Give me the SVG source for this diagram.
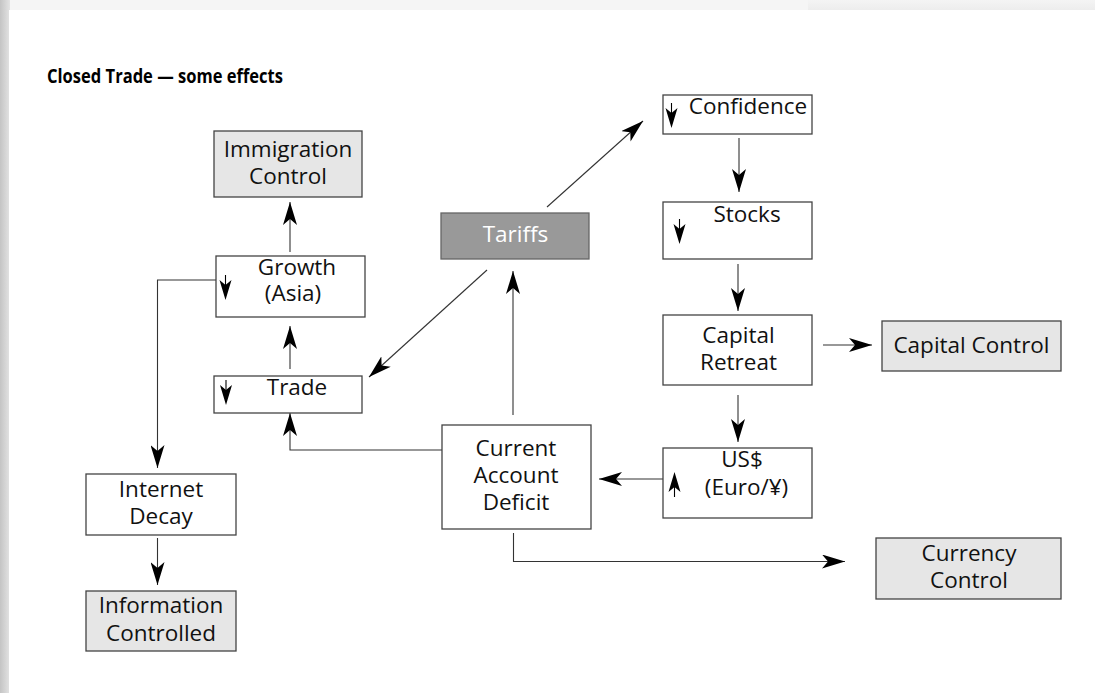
<svg xmlns="http://www.w3.org/2000/svg" width="1095" height="693" viewBox="0 0 1095 693">
  <defs>
    <linearGradient id="leftShade" x1="0" y1="0" x2="1" y2="0">
      <stop offset="0" stop-color="#c4c4c4"/>
      <stop offset="1" stop-color="#e4e4e4"/>
    </linearGradient>
    <linearGradient id="topShade" x1="0" y1="0" x2="0" y2="1">
      <stop offset="0" stop-color="#f4f4f4"/>
      <stop offset="1" stop-color="#ececec"/>
    </linearGradient>
    <marker id="ah" viewBox="0 0 23 14" refX="23" refY="7" markerWidth="23" markerHeight="14" markerUnits="userSpaceOnUse" orient="auto">
      <path d="M0,0 L23,7 L0,14 L6,7 Z" fill="#000"/>
    </marker>
    <g id="dn">
      <line x1="0" y1="-25" x2="0" y2="-15" stroke="#000" stroke-width="1.1"/>
      <path d="M0,0 L-6,-20 L0,-15 L6,-20 Z" fill="#000"/>
    </g>
  </defs>
  <style>
    .box { fill: #ffffff; stroke: #444444; stroke-width: 1.3; }
    .ctl { fill: #e6e6e6; stroke: #444444; stroke-width: 1.3; }
    .dark { fill: #999999; stroke: #666666; stroke-width: 1.3; }
    .t { font-family: "Open Sans", "Noto Sans", sans-serif; font-size: 22.5px; fill: #111111; text-anchor: middle; }
    .tw { font-family: "Open Sans", "Noto Sans", sans-serif; font-size: 22.5px; fill: #ffffff; text-anchor: middle; }
    .title { font-family: "Open Sans", "Noto Sans", sans-serif; font-size: 19px; font-weight: bold; fill: #000000; }
    .c { fill: none; stroke: #333333; stroke-width: 1.1; }
    .ca { fill: none; stroke: #333333; stroke-width: 1.1; marker-end: url(#ah); }
  </style>

  <!-- background / page frame -->
  <rect x="0" y="0" width="1095" height="693" fill="#eeeeee"/>
  <rect x="0" y="0" width="808" height="11" fill="#f5f5f5"/>
  <rect x="808" y="0" width="287" height="11" fill="url(#topShade)"/>
  <rect x="0" y="0" width="10" height="693" fill="url(#leftShade)"/>
  <rect x="9" y="10" width="1086" height="683" fill="#ffffff"/>

  <text class="title" x="47" y="83" textLength="236" lengthAdjust="spacingAndGlyphs">Closed Trade — some effects</text>

  <!-- connectors -->
  <g id="connectors">
    <polyline class="ca" points="216,280 157.5,280 157.5,468"/>
    <line class="ca" x1="157.5" y1="538" x2="157.5" y2="585"/>
    <polyline class="ca" points="442,450 290,450 290,413"/>
    <line class="ca" x1="290" y1="369" x2="290" y2="326"/>
    <line class="ca" x1="290" y1="252" x2="290" y2="202"/>
    <line class="ca" x1="487" y1="270" x2="369" y2="377"/>
    <line class="ca" x1="513" y1="415" x2="513" y2="271"/>
    <line class="ca" x1="547" y1="207" x2="643" y2="121"/>
    <line class="ca" x1="739" y1="138" x2="739" y2="192"/>
    <line class="ca" x1="738" y1="264" x2="738" y2="311"/>
    <line class="ca" x1="823" y1="345" x2="872" y2="345"/>
    <line class="ca" x1="738" y1="395" x2="738" y2="442"/>
    <line class="ca" x1="663" y1="479" x2="599" y2="479"/>
    <polyline class="ca" points="513.5,533 513.5,561.5 845,561.5"/>
  </g>

  <!-- nodes -->
  <g id="immigration-control">
    <rect class="ctl" x="214" y="131" width="148" height="66"/>
    <text class="t" x="288" y="157">Immigration</text>
    <text class="t" x="288" y="184">Control</text>
  </g>
  <g id="growth-asia">
    <rect class="box" x="216" y="256" width="149" height="61"/>
    <use href="#dn" x="225.5" y="300"/>
    <text class="t" x="297" y="275">Growth</text>
    <text class="t" x="293" y="301">(Asia)</text>
  </g>
  <g id="trade">
    <rect class="box" x="214" y="376" width="148" height="37"/>
    <use href="#dn" x="226" y="405"/>
    <text class="t" x="297" y="395">Trade</text>
  </g>
  <g id="tariffs">
    <rect class="dark" x="441" y="213" width="148" height="46"/>
    <text class="tw" x="515.5" y="242">Tariffs</text>
  </g>
  <g id="confidence">
    <rect class="box" x="663" y="95" width="149" height="39"/>
    <use href="#dn" x="671.5" y="128"/>
    <text class="t" x="748" y="113.5">Confidence</text>
  </g>
  <g id="stocks">
    <rect class="box" x="663" y="202" width="149" height="57"/>
    <use href="#dn" x="679.5" y="244"/>
    <text class="t" x="747" y="222">Stocks</text>
  </g>
  <g id="capital-retreat">
    <rect class="box" x="663" y="315" width="149" height="70"/>
    <text class="t" x="738.5" y="343">Capital</text>
    <text class="t" x="738.5" y="370">Retreat</text>
  </g>
  <g id="capital-control">
    <rect class="ctl" x="882" y="321" width="179" height="50"/>
    <text class="t" x="971.5" y="353">Capital Control</text>
  </g>
  <g id="us-dollar">
    <rect class="box" x="663" y="448" width="149" height="70"/>
    <use href="#dn" transform="translate(674.5,472) rotate(180)"/>
    <text class="t" x="742" y="467">US$</text>
    <text class="t" x="746.5" y="495">(Euro/¥)</text>
  </g>
  <g id="current-account-deficit">
    <rect class="box" x="442" y="425" width="149" height="104"/>
    <text class="t" x="516" y="456">Current</text>
    <text class="t" x="516" y="483">Account</text>
    <text class="t" x="516" y="510">Deficit</text>
  </g>
  <g id="internet-decay">
    <rect class="box" x="86" y="474" width="150" height="61"/>
    <text class="t" x="161" y="497">Internet</text>
    <text class="t" x="161" y="524">Decay</text>
  </g>
  <g id="information-controlled">
    <rect class="ctl" x="86" y="591" width="150" height="60"/>
    <text class="t" x="161" y="613">Information</text>
    <text class="t" x="161" y="640.5">Controlled</text>
  </g>
  <g id="currency-control">
    <rect class="ctl" x="876" y="538" width="185" height="61"/>
    <text class="t" x="969" y="560.5">Currency</text>
    <text class="t" x="969" y="588">Control</text>
  </g>
</svg>
